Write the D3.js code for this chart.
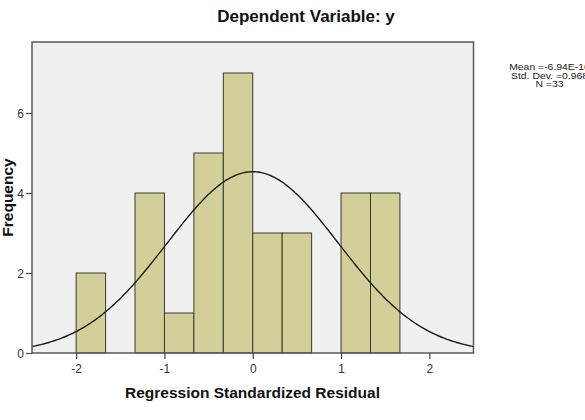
<!DOCTYPE html>
<html>
<head>
<meta charset="utf-8">
<script src="https://cdn.jsdelivr.net/npm/d3@7/dist/d3.min.js"></script>
<style>
  body { margin: 0; background: #fff; }
  svg { display: block; font-family: "Liberation Sans", Arial, sans-serif; }
</style>
</head>
<body>
<svg id="chart" width="585" height="420"></svg>
<script>
// ---- data ----
const binStarts = [-2, -5/3, -4/3, -1, -2/3, -1/3, 0, 1/3, 2/3, 1, 4/3];
const binWidth = 1/3;
const counts = [2, 0, 4, 1, 5, 7, 3, 3, 0, 4, 4];
const xTicks = [-2, -1, 0, 1, 2];
const yTicks = [0, 2, 4, 6];
const statMean = -6.94e-16;
const statSD = 0.968;
const statN = 33;
const statLines = ["Mean =-6.94E-16", "Std. Dev. =0.968", "N =33"];
const titleText = "Dependent Variable: y";
const xLabel = "Regression Standardized Residual";
const yLabel = "Frequency";

// ---- layout ----
const L = 32, R = 473.5, T = 42, B = 353;
const svg = d3.select("#chart");
const x = d3.scaleLinear().domain([-2.5, 2.5]).range([L, R]);
const y = d3.scaleLinear().domain([0, 7.775]).range([B, T]);

// plot background
svg.append("rect").attr("x", L).attr("y", T).attr("width", R - L).attr("height", B - T)
  .attr("fill", "#f0f0f0");

// bars
const bins = binStarts.map((s, i) => ({ x0: s, x1: s + binWidth, n: counts[i] })).filter(d => d.n > 0);
svg.append("g").selectAll("rect").data(bins).join("rect")
  .attr("x", d => x(d.x0))
  .attr("y", d => y(d.n))
  .attr("width", d => x(d.x1) - x(d.x0))
  .attr("height", d => y(0) - y(d.n))
  .attr("fill", "#d3cf98")
  .attr("stroke", "#3a3a30")
  .attr("stroke-width", 1);

// normal curve
const scaleN = statN * binWidth;
const pdf = v => scaleN * Math.exp(-0.5 * Math.pow((v - statMean) / statSD, 2)) / (statSD * Math.sqrt(2 * Math.PI));
const pts = d3.range(-2.5, 2.5001, 0.02).map(v => [v, pdf(v)]);
svg.append("path").datum(pts)
  .attr("d", d3.line().x(d => x(d[0])).y(d => y(d[1])).curve(d3.curveBasis))
  .attr("fill", "none").attr("stroke", "#1a1a1a").attr("stroke-width", 1.4);

// frame
svg.append("rect").attr("x", L).attr("y", T).attr("width", R - L).attr("height", B - T)
  .attr("fill", "none").attr("stroke", "#5a5a5a").attr("stroke-width", 1.5);

// axes
const fmt = d => String(d);
const xAxis = svg.append("g").attr("transform", `translate(0,${B})`)
  .call(d3.axisBottom(x).tickValues(xTicks).tickFormat(fmt).tickSize(6).tickSizeOuter(0));
const yAxis = svg.append("g").attr("transform", `translate(${L},0)`)
  .call(d3.axisLeft(y).tickValues(yTicks).tickFormat(fmt).tickSize(6).tickSizeOuter(0));
[xAxis, yAxis].forEach(g => {
  g.select(".domain").remove();
  g.selectAll(".tick line").attr("stroke", "#444").attr("stroke-width", 1.2);
  g.selectAll(".tick text").attr("fill", "#333").style("font-size", "12px")
    .style("font-family", "'Liberation Sans', Arial, sans-serif");
});
xAxis.selectAll(".tick text").attr("dy", "0").attr("y", 20);
yAxis.selectAll(".tick text").attr("x", -8).attr("dy", "0.35em");

// title
svg.append("text").attr("x", 306).attr("y", 22).attr("text-anchor", "middle")
  .style("font-size", "17px").style("font-weight", "bold").attr("fill", "#111")
  .text(titleText);

// axis labels
svg.append("text").attr("x", 252.5).attr("y", 398).attr("text-anchor", "middle")
  .style("font-size", "15.5px").style("font-weight", "bold").attr("fill", "#111")
  .text(xLabel);
svg.append("text").attr("transform", `translate(13,${(T + B) / 2}) rotate(-90)`)
  .attr("text-anchor", "middle")
  .style("font-size", "15.5px").style("font-weight", "bold").attr("fill", "#111")
  .text(yLabel);

// stats box text
svg.append("g").attr("transform", "translate(549.5,0) scale(1.12,1)")
  .selectAll("text").data(statLines).join("text")
  .attr("x", 0).attr("y", (d, i) => 70.5 + i * 8.5)
  .attr("text-anchor", "middle")
  .style("font-size", "9.3px").attr("fill", "#222")
  .text(d => d);
</script>
</body>
</html>
